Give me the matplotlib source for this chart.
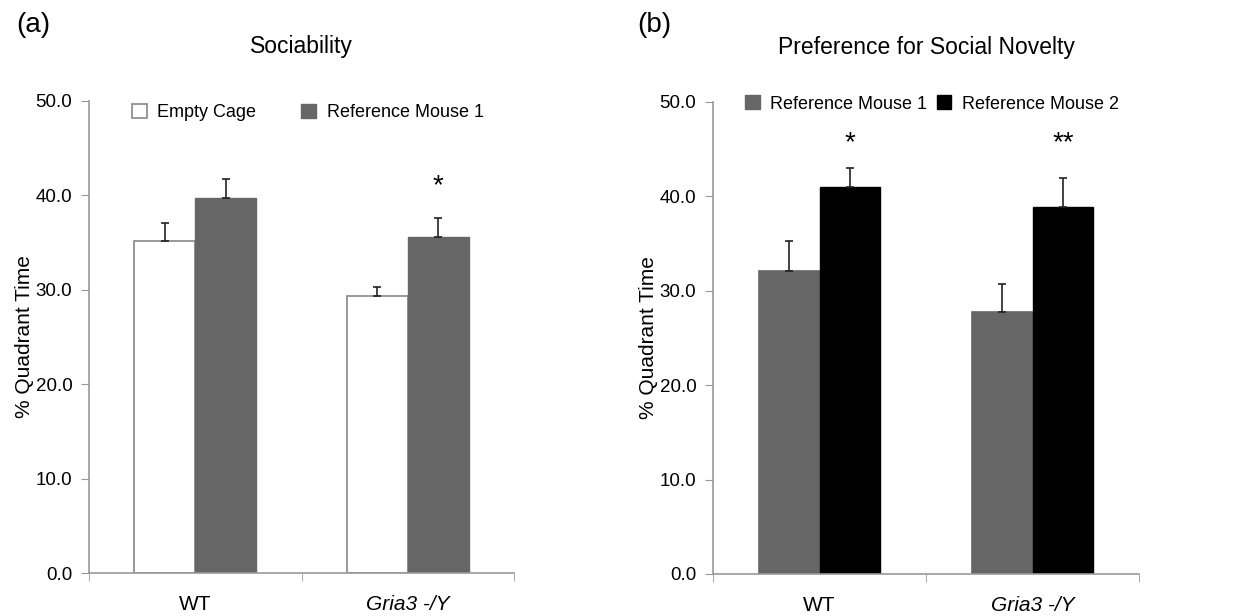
import numpy as np
import matplotlib
matplotlib.use('Agg')
import matplotlib.pyplot as plt
from matplotlib.patches import Patch

plt.rcParams['font.family'] = ['Liberation Sans', 'DejaVu Sans']

# 数据
groups = ['WT', 'Gria3 -/Y']
soc_empty = [35.1, 29.3]
soc_empty_err = [2.0, 1.0]
soc_ref1 = [39.7, 35.6]
soc_ref1_err = [2.0, 2.0]
soc_stars = ['', '*']

nov_ref1 = [32.1, 27.7]
nov_ref1_err = [3.1, 3.0]
nov_ref2 = [41.0, 38.9]
nov_ref2_err = [2.0, 3.0]
nov_stars = ['*', '**']

yticks = [0, 10, 20, 30, 40, 50]

WHITE = '#ffffff'
GRAY = '#666666'
BLACK = '#000000'
AXIS = '#999999'


def style_axis(ax):
    ax.set_xlim(-0.5, 1.5)
    ax.set_ylim(0, 50)
    ax.set_yticks(yticks)
    ax.set_yticklabels([f'{v:.1f}' for v in yticks], fontsize=13.5)
    ax.set_xticks(range(len(groups)))
    labels = ax.set_xticklabels(groups, fontsize=15)
    labels[1].set_fontstyle('italic')  # 基因型斜体
    ax.set_xticks([-0.5, 0.5, 1.5], minor=True)
    ax.tick_params(axis='x', which='major', length=0, pad=16)
    ax.tick_params(axis='x', which='minor', length=6, color=AXIS)
    ax.tick_params(axis='y', length=6, color=AXIS, pad=6)
    for s in ['top', 'right']:
        ax.spines[s].set_visible(False)
    for s in ['left', 'bottom']:
        ax.spines[s].set_color(AXIS)
        ax.spines[s].set_linewidth(1.2)
    ax.set_ylabel('% Quadrant Time', fontsize=15, labelpad=1)


def draw_panel(ax, v1, e1, v2, e2, c1, c2, ec1):
    x = np.arange(len(groups))
    w = 0.286
    ax.bar(x - w / 2, v1, w, color=c1, edgecolor=ec1, linewidth=1.2, zorder=2)
    ax.bar(x + w / 2, v2, w, color=c2, edgecolor=c2, linewidth=1.0, zorder=2)
    ax.errorbar(x - w / 2, v1, yerr=[np.zeros(len(e1)), e1], fmt='none',
                ecolor='#222222', elinewidth=1.2, capsize=3, capthick=1.2, zorder=3)
    ax.errorbar(x + w / 2, v2, yerr=[np.zeros(len(e2)), e2], fmt='none',
                ecolor='#222222', elinewidth=1.2, capsize=3, capthick=1.2, zorder=3)
    return x, w


fig = plt.figure(figsize=(12.33, 6.16), dpi=100)
ax1 = fig.add_axes([0.0722, 0.0698, 0.3447, 0.7667])
ax2 = fig.add_axes([0.5783, 0.0682, 0.3455, 0.7667])

# (a) Sociability
x, w = draw_panel(ax1, soc_empty, soc_empty_err, soc_ref1, soc_ref1_err,
                  WHITE, GRAY, '#888888')
style_axis(ax1)
for i, s in enumerate(soc_stars):
    if s:
        ax1.text(x[i] + w / 2, soc_ref1[i] + soc_ref1_err[i] + 3.4, s,
                 ha='center', va='center', fontsize=20)
ax1.set_title('Sociability', fontsize=16.5, pad=34)
ax1.legend(handles=[Patch(facecolor=WHITE, edgecolor='#888888', linewidth=1.2, label='Empty Cage'),
                    Patch(facecolor=GRAY, edgecolor=GRAY, label='Reference Mouse 1')],
           loc='center', bbox_to_anchor=(0.515, 0.975), ncol=2, frameon=False,
           fontsize=13, handlelength=0.8, handleheight=0.8, handletextpad=0.6,
           columnspacing=2.5)

# (b) Preference for Social Novelty
x, w = draw_panel(ax2, nov_ref1, nov_ref1_err, nov_ref2, nov_ref2_err,
                  GRAY, BLACK, GRAY)
style_axis(ax2)
for i, s in enumerate(nov_stars):
    ax2.text(x[i] + w / 2, 45.6, s, ha='center', va='center', fontsize=20)
ax2.set_title('Preference for Social Novelty', fontsize=16.5, pad=34)
ax2.legend(handles=[Patch(facecolor=GRAY, edgecolor=GRAY, label='Reference Mouse 1'),
                    Patch(facecolor=BLACK, edgecolor=BLACK, label='Reference Mouse 2')],
           loc='center', bbox_to_anchor=(0.514, 0.995), ncol=2, frameon=False,
           fontsize=13, handlelength=0.8, handleheight=0.8, handletextpad=0.6,
           columnspacing=0.5)

fig.text(0.013, 0.96, '(a)', fontsize=20, va='center')
fig.text(0.517, 0.96, '(b)', fontsize=20, va='center')

fig.savefig('out.png', dpi=100)
